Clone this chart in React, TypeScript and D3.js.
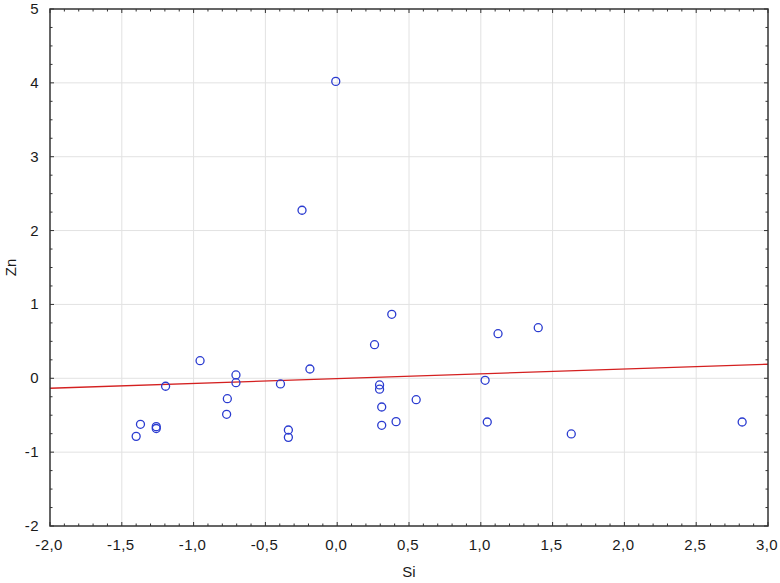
import React from "react";
import * as d3 from "d3";

const siValues = [-0.01, -0.245, 0.38, 0.26, -0.19, -0.395, 0.295, 0.295, 0.31, 0.55, 0.31, 0.41, -0.34, -0.34,
  -0.955, -0.705, -0.705, -1.195, -0.765, -0.77, -1.37, -1.26, -1.26, -1.40, 1.12, 1.40, 1.03, 1.045, 1.63, 2.82];
const znValues = [4.02, 2.275, 0.866, 0.455, 0.126, -0.077, -0.09, -0.148, -0.389, -0.29, -0.637, -0.587, -0.70, -0.80,
  0.238, 0.045, -0.06, -0.108, -0.276, -0.488, -0.623, -0.655, -0.68, -0.786, 0.604, 0.685, -0.027, -0.592, -0.754, -0.592];
const fitIntercept = -0.005;
const fitSlope = 0.065;
const xTicks = [-2, -1.5, -1, -0.5, 0, 0.5, 1, 1.5, 2, 2.5, 3];
const yTicks = [-2, -1, 0, 1, 2, 3, 4, 5];

export default function App() {
  const W = 780, H = 583;
  const m = { left: 50, right: 12, top: 9, bottom: 57 };
  const x = d3.scaleLinear().domain([-2, 3]).range([m.left, W - m.right]);
  const y = d3.scaleLinear().domain([-2, 5]).range([H - m.bottom, m.top]);
  const x0 = m.left, x1 = W - m.right, y0 = H - m.bottom, y1 = m.top;
  const xMinor = d3.range(-2, 3.0001, 0.1).map((v) => +v.toFixed(2));
  const yMinor = d3.range(-2, 5.0001, 0.25);
  const fmt = (v: number) => v.toFixed(1).replace(".", ",");
  const isMajorX = (v: number) => Math.abs(v * 2 - Math.round(v * 2)) < 1e-6;
  const isMajorY = (v: number) => Math.abs(v - Math.round(v)) < 1e-6;
  const line = d3.line<number>().x((d) => x(d)).y((d) => y(fitIntercept + fitSlope * d));
  const frame = "#333";
  const font = "Liberation Sans, Arial, sans-serif";
  const fs = 15;
  const ls = 0.4;
  return (
    <svg width={W} height={H} style={{ position: "absolute", left: 0, top: 0, background: "#fff" }}>
      <rect x={0} y={0} width={W} height={H} fill="#fff" />
      {xTicks.slice(1, -1).map((t) => (
        <line key={"gx" + t} x1={x(t)} x2={x(t)} y1={y0} y2={y1} stroke="#e2e2e2" strokeWidth={1} />
      ))}
      {yTicks.slice(1, -1).map((t) => (
        <line key={"gy" + t} x1={x0} x2={x1} y1={y(t)} y2={y(t)} stroke="#e2e2e2" strokeWidth={1} />
      ))}
      <path d={line([-2, 3]) || ""} fill="none" stroke="#d42020" strokeWidth={1.3} />
      {siValues.map((s, i) => (
        <circle key={i} cx={x(s)} cy={y(znValues[i])} r={4} fill="none" stroke="#2a3bd0" strokeWidth={1.3} />
      ))}
      {xMinor.map((t) => {
        const len = isMajorX(t) ? 4 : 2.5;
        return (
          <g key={"tx" + t}>
            <line x1={x(t)} x2={x(t)} y1={y0} y2={y0 - len} stroke={frame} strokeWidth={1} />
            <line x1={x(t)} x2={x(t)} y1={y1} y2={y1 + len} stroke={frame} strokeWidth={1} />
          </g>
        );
      })}
      {yMinor.map((t) => {
        const len = isMajorY(t) ? 4 : 2.5;
        return (
          <g key={"ty" + t}>
            <line x1={x0} x2={x0 + len} y1={y(t)} y2={y(t)} stroke={frame} strokeWidth={1} />
            <line x1={x1} x2={x1 - len} y1={y(t)} y2={y(t)} stroke={frame} strokeWidth={1} />
          </g>
        );
      })}
      <rect x={x0} y={y1} width={x1 - x0} height={y0 - y1} fill="none" stroke={frame} strokeWidth={1.5} />
      {xTicks.map((t) => (
        <text key={"lx" + t} x={x(t) - 1} y={y0 + 24} textAnchor="middle" fontFamily={font} fontSize={fs} letterSpacing={ls} fill="#1a1a1a">
          {fmt(t)}
        </text>
      ))}
      {yTicks.map((t) => (
        <text key={"ly" + t} x={x0 - 11} y={y(t) + 5} textAnchor="end" fontFamily={font} fontSize={fs} letterSpacing={ls} fill="#1a1a1a">
          {t}
        </text>
      ))}
      <text x={(x0 + x1) / 2} y={577} textAnchor="middle" fontFamily={font} fontSize={fs} fill="#1a1a1a">Si</text>
      <text transform={`translate(16,${(y0 + y1) / 2}) rotate(-90)`} textAnchor="middle" fontFamily={font} fontSize={fs} fill="#1a1a1a">Zn</text>
    </svg>
  );
}
